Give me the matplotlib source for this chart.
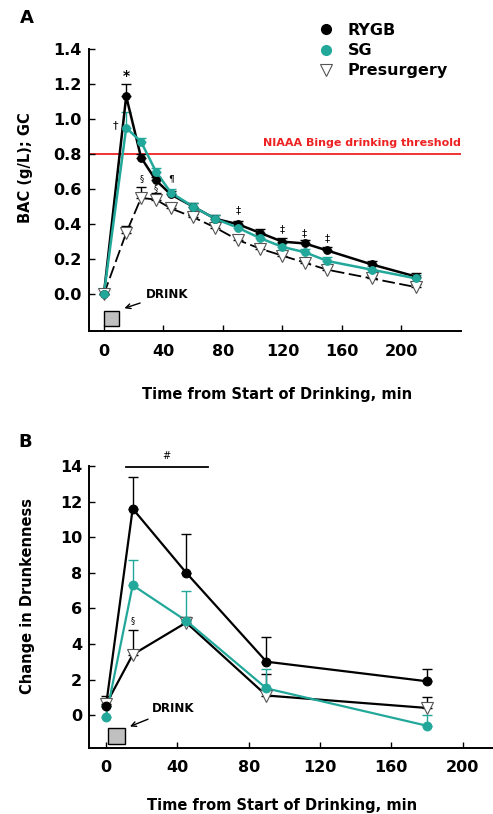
import numpy as np
import matplotlib.pyplot as plt
from matplotlib.patches import Rectangle
from matplotlib.lines import Line2D

plt.rcParams['font.family'] = ['DejaVu Sans']
plt.rcParams['font.weight'] = 'bold'
plt.rcParams['axes.labelweight'] = 'bold'

TEAL = '#22a89a'
TRI_EDGE = '#555555'

# Panel A: blood alcohol concentration
t_bac = [0, 15, 25, 35, 45, 60, 75, 90, 105, 120, 135, 150, 180, 210]
bac_rygb = [0.0, 1.13, 0.78, 0.65, 0.57, 0.50, 0.43, 0.40, 0.35, 0.30, 0.29, 0.25, 0.17, 0.10]
bac_sg = [0.0, 0.95, 0.87, 0.70, 0.58, 0.50, 0.43, 0.38, 0.32, 0.27, 0.24, 0.19, 0.14, 0.09]
bac_pre = [0.0, 0.35, 0.55, 0.54, 0.49, 0.44, 0.38, 0.31, 0.26, 0.22, 0.18, 0.14, 0.09, 0.04]
err_rygb = [0, 0.07, 0.02, 0.02, 0.02, 0.02, 0.02, 0.02, 0.02, 0.02, 0.02, 0.02, 0.02, 0.02]
err_sg = [0, 0.09, 0.02, 0.02, 0.02, 0.02, 0.02, 0.02, 0.02, 0.02, 0.02, 0.02, 0.02, 0.02]
err_pre = [0, 0.04, 0.06, 0.04, 0.02, 0.02, 0.02, 0.02, 0.02, 0.02, 0.02, 0.02, 0.02, 0.02]
binge = 0.8

# Panel B: change in drunkenness
t_dr = [0, 15, 45, 90, 180]
dr_rygb = [0.5, 11.6, 8.0, 3.0, 1.9]
dr_sg = [-0.1, 7.3, 5.3, 1.5, -0.6]
dr_pre = [0.6, 3.4, 5.2, 1.1, 0.4]
derr_rygb = [0.6, 1.8, 2.2, 1.4, 0.7]
derr_sg = [0.6, 1.4, 1.7, 1.1, 0.6]
derr_pre = [0.3, 1.4, 0.3, 1.2, 0.6]

W, H = 493, 814
fig = plt.figure(figsize=(W / 100, H / 100), dpi=100)
axA = fig.add_axes([89 / W, 1 - 331 / H, 372 / W, 282 / H])
axB = fig.add_axes([89 / W, 1 - 748 / H, 404 / W, 282 / H])


def series(ax, x, y, err, color, lw, marker, ms, mfc, mec, dashes=None):
    ax.errorbar(x, y, yerr=[np.zeros(len(err)), err], fmt='none', ecolor=color,
                elinewidth=1.0, capsize=3.5, capthick=1.0, zorder=2)
    line, = ax.plot(x, y, color=color, lw=lw, zorder=3)
    if dashes:
        line.set_dashes(dashes)
    ax.plot(x, y, ls='none', marker=marker, ms=ms, mfc=mfc, mec=mec, mew=0.8, zorder=4)


# ---- panel A
series(axA, t_bac, bac_pre, err_pre, 'black', 1.3, 'v', 8, 'white', TRI_EDGE, dashes=(7, 2.5))
series(axA, t_bac, bac_rygb, err_rygb, 'black', 1.8, 'o', 5.5, 'black', 'black')
series(axA, t_bac, bac_sg, err_sg, TEAL, 1.8, 'o', 5.5, TEAL, TEAL)

axA.axhline(binge, color='#ee2222', lw=1.3, zorder=1)
axA.text(240, binge + 0.035, 'NIAAA Binge drinking threshold', color='#ee2222',
         fontsize=8, ha='right', va='bottom')

axA.add_patch(Rectangle((0, -0.18), 10, 0.085, fc='#c0c0c0', ec='black', lw=1.0, zorder=2))
axA.annotate('DRINK', xy=(12, -0.085), xytext=(28, 0.0), fontsize=8.6, va='center',
             arrowprops=dict(arrowstyle='->', lw=1.0, color='black'))

axA.text(15, 1.245, '*', fontsize=10, ha='center', va='center')
axA.text(7.5, 0.965, '†', fontsize=8, ha='center', va='center', fontweight='normal')
axA.text(25.5, 0.66, '§', fontsize=6, ha='center', va='center', fontweight='normal')
axA.text(35, 0.60, '§', fontsize=6, ha='center', va='center', fontweight='normal')
axA.text(45.5, 0.66, '¶', fontsize=6.5, ha='center', va='center', fontweight='normal')
for tx, ty in [(90, 0.48), (120, 0.37), (135, 0.35), (150, 0.32)]:
    axA.text(tx, ty, '‡', fontsize=7.5, ha='center', va='center', fontweight='normal')

axA.set_xlim(-10, 240)
axA.set_ylim(-0.21, 1.4)
axA.set_xticks(np.arange(0, 201, 40))
axA.set_yticks(np.arange(0, 1.41, 0.2))
axA.set_yticklabels([f'{v:.1f}' for v in np.arange(0, 1.41, 0.2)])
axA.set_xlabel('Time from Start of Drinking, min', fontsize=10.5)
axA.set_ylabel('BAC (g/L); GC', fontsize=10.5)
axA.xaxis.set_label_coords(0.505, -0.2)
axA.yaxis.set_label_coords(-0.15, 0.58)

# ---- panel B
series(axB, t_dr, dr_pre, derr_pre, 'black', 1.6, 'v', 8.5, 'white', TRI_EDGE)
series(axB, t_dr, dr_rygb, derr_rygb, 'black', 1.6, 'o', 6.3, 'black', 'black')
series(axB, t_dr, dr_sg, derr_sg, TEAL, 1.6, 'o', 6.3, TEAL, TEAL)

axB.add_patch(Rectangle((1, -1.6), 9.5, 0.9, fc='#c0c0c0', ec='black', lw=1.0, zorder=2))
axB.annotate('DRINK', xy=(12, -0.7), xytext=(26, 0.35), fontsize=8.6, va='center',
             arrowprops=dict(arrowstyle='->', lw=1.0, color='black'))
axB.plot([11, 57], [13.95, 13.95], color='black', lw=1.3, clip_on=False)
axB.text(34, 14.55, '#', fontsize=7, ha='center', va='center', fontweight='normal')
axB.text(15, 5.3, '§', fontsize=6, ha='center', va='center', fontweight='normal')

axB.set_xlim(-9.5, 217)
axB.set_ylim(-1.85, 14)
axB.set_xticks(np.arange(0, 201, 40))
axB.set_yticks(np.arange(0, 15, 2))
axB.set_xlabel('Time from Start of Drinking, min', fontsize=10.5)
axB.set_ylabel('Change in Drunkenness', fontsize=10.5)
axB.xaxis.set_label_coords(0.479, -0.177)
axB.yaxis.set_label_coords(-0.134, 0.54)

for ax in (axA, axB):
    for s in ('top', 'right'):
        ax.spines[s].set_visible(False)
    for s in ('left', 'bottom'):
        ax.spines[s].set_linewidth(1.4)
    ax.tick_params(direction='in', length=4, width=1.0, labelsize=11.5)
    ax.tick_params(axis='x', pad=9)
    ax.tick_params(axis='y', pad=5)

fig.text(27 / W, 1 - 18 / H, 'A', fontsize=13, ha='center', va='center')
fig.text(25 / W, 1 - 442 / H, 'B', fontsize=13, ha='center', va='center')

handles = [
    Line2D([], [], ls='none', marker='o', ms=7, mfc='black', mec='black'),
    Line2D([], [], ls='none', marker='o', ms=7, mfc=TEAL, mec=TEAL),
    Line2D([], [], ls='none', marker='v', ms=8, mfc='white', mec=TRI_EDGE, mew=0.8),
]
fig.legend(handles, ['RYGB', 'SG', 'Presurgery'], loc='upper left',
           bbox_to_anchor=(318 / W, 1 - 23 / H), frameon=False, handlelength=1.0,
           handletextpad=0.85, labelspacing=0.32, borderpad=0, borderaxespad=0,
           prop={'size': 11.5, 'weight': 'bold'})

fig.savefig('out.png', dpi=100)
